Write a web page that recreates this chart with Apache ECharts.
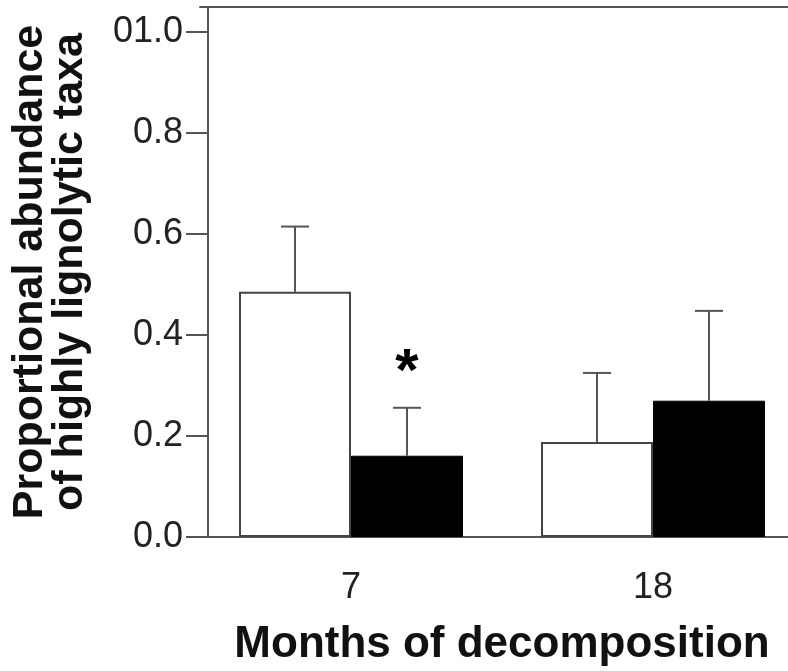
<!DOCTYPE html>
<html>
<head>
<meta charset="utf-8">
<script src="https://cdn.jsdelivr.net/npm/echarts@6/dist/echarts.min.js"></script>
<style>
  html, body { margin: 0; padding: 0; background: #fff; }
  #main { width: 788px; height: 671px; }
</style>
</head>
<body>
<div id="main"></div>
<script>
// chart data
const months = ["7", "18"];
const openMeans = [0.486, 0.188];
const openErr = [0.129, 0.137];
const filledMeans = [0.161, 0.270];
const filledErr = [0.095, 0.178];
const filledMarks = ["*", ""];       // significance mark over the filled bar
const yTickValues = [0, 0.2, 0.4, 0.6, 0.8, 1.0];
const yTickLabels = ["0.0", "0.2", "0.4", "0.6", "0.8", "01.0"];

const BAR_W = 112;
const AXIS_COLOR = "#555";
const FONT = "Liberation Sans, Arial, sans-serif";

const chart = echarts.init(document.getElementById("main"));

// error bar drawn from the mean up to mean + err, with a cap
function errorBar(side, marks) {
    return function (params, api) {
        const cat = api.value(0);
        const mean = api.value(1);
        const err = api.value(2);
        const x = api.coord([cat, 0])[0] + side * BAR_W / 2;
        const yBase = api.coord([cat, mean])[1];
        const yTop = api.coord([cat, mean + err])[1];
        const children = [
            { type: "line", shape: { x1: x, y1: yBase, x2: x, y2: yTop },
              style: { stroke: AXIS_COLOR, lineWidth: 2 } },
            { type: "line", shape: { x1: x - 14, y1: yTop, x2: x + 14, y2: yTop },
              style: { stroke: AXIS_COLOR, lineWidth: 2 } },
        ];
        const m = marks ? marks[params.dataIndex] : "";
        if (m) {
            children.push({
                type: "text",
                style: { text: m, x: x, y: yTop - 34, align: "center", verticalAlign: "middle",
                         font: "bold 60px " + FONT, fill: "#000" },
            });
        }
        return { type: "group", children: children };
    };
}

const option = {
    backgroundColor: "#fff",
    animation: false,
    grid: { left: 200, width: 604, top: 7, height: 530, containLabel: false, outerBoundsMode: "none" },
    xAxis: [
        {
            type: "category",
            data: months,
            position: "bottom",
            axisLine: { lineStyle: { color: AXIS_COLOR, width: 2 } },
            axisTick: { alignWithLabel: true, length: 20, lineStyle: { color: AXIS_COLOR, width: 2 } },
            axisLabel: { color: "#222", fontSize: 36, fontFamily: FONT, margin: 33 },
            name: "Months of decomposition",
            nameLocation: "middle",
            nameGap: 86,
            nameTextStyle: { color: "#111", fontSize: 44, fontWeight: "bold", fontFamily: FONT },
        },
        {
            type: "category",
            data: months,
            position: "top",
            axisLine: { lineStyle: { color: AXIS_COLOR, width: 2 } },
            axisTick: { show: false },
            axisLabel: { show: false },
        },
    ],
    yAxis: {
        type: "value",
        min: 0,
        max: 1.05,
        offset: -8,
        splitLine: { show: false },
        axisLine: { show: true, lineStyle: { color: AXIS_COLOR, width: 2 } },
        axisTick: { show: true, length: 22, customValues: yTickValues,
                    lineStyle: { color: AXIS_COLOR, width: 2 } },
        axisLabel: {
            customValues: yTickValues,
            color: "#222", fontSize: 36, fontFamily: FONT, margin: 25,
            formatter: (v) => yTickLabels[yTickValues.findIndex((t) => Math.abs(t - v) < 1e-6)],
        },
        name: "Proportional abundance\nof highly lignolytic taxa",
        nameLocation: "middle",
        nameRotate: 90,
        nameGap: 118,
        nameTextStyle: { color: "#111", fontSize: 43, fontWeight: "bold", fontFamily: FONT, lineHeight: 40 },
    },
    series: [
        {
            type: "bar",
            data: openMeans,
            barWidth: BAR_W,
            barGap: "0%",
            itemStyle: { color: "#fff", borderColor: "#444", borderWidth: 2 },
            z: 2,
        },
        {
            type: "bar",
            data: filledMeans,
            barWidth: BAR_W,
            barGap: "0%",
            itemStyle: { color: "#000", borderColor: "#000", borderWidth: 1 },
            z: 2,
        },
        {
            type: "custom",
            renderItem: errorBar(-1, null),
            data: openMeans.map((m, i) => [i, m, openErr[i]]),
            z: 5,
        },
        {
            type: "custom",
            renderItem: errorBar(1, filledMarks),
            data: filledMeans.map((m, i) => [i, m, filledErr[i]]),
            z: 5,
        },
    ],
};

chart.setOption(option);
</script>
</body>
</html>
